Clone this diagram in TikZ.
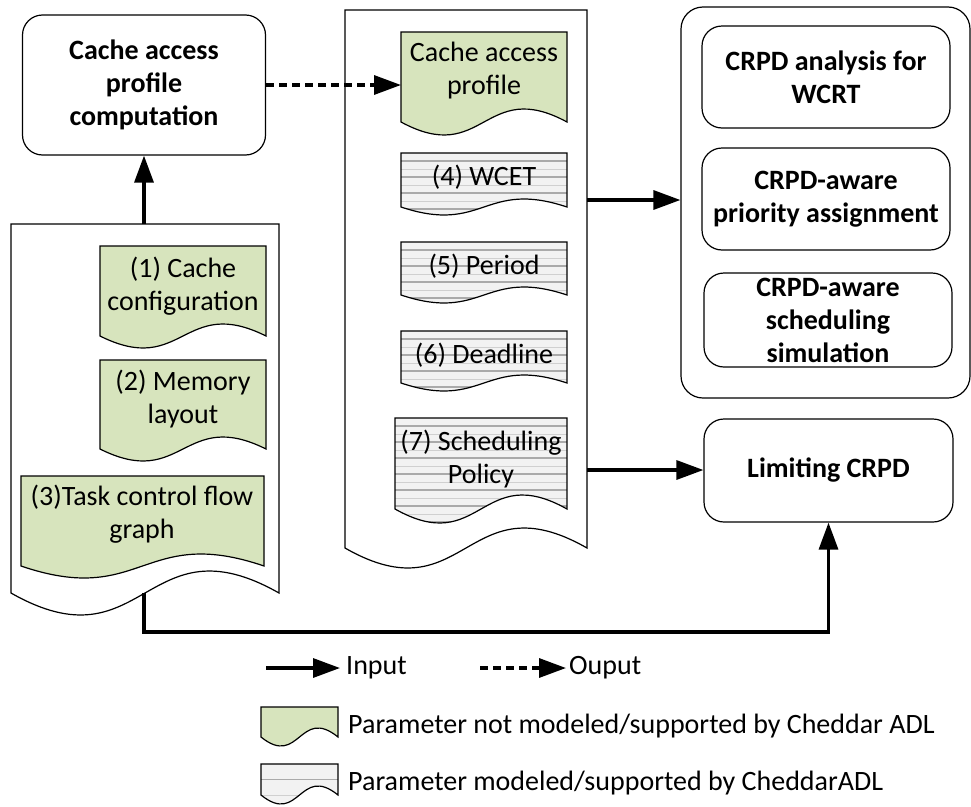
\documentclass[tikz,border=0pt]{standalone}
\usepackage{fontspec}
\setmainfont{Carlito}
\usetikzlibrary{arrows.meta}
\definecolor{docgreen}{RGB}{215,228,189}
\definecolor{docgray}{RGB}{242,242,242}
\definecolor{hatchdark}{RGB}{170,170,170}
\definecolor{hatchlight}{RGB}{208,208,208}

\newcommand{\docpath}[5]{(#1,#2) -- (#3,#2) -- (#3,#4) .. controls ({(#1+#3)/2},{#4-3.46*#5}) and ({(#1+#3)/2},{#4+3.46*#5}) .. (#1,#4) -- cycle}
\newcommand{\whitedoc}[5]{\filldraw[shapeline, fill=white] \docpath{#1}{#2}{#3}{#4}{#5};}
\newcommand{\greendoc}[5]{\filldraw[shapeline, fill=docgreen] \docpath{#1}{#2}{#3}{#4}{#5};}
\newcommand{\graydoc}[6]{%
  \begin{scope}
    \clip \docpath{#1}{#2}{#3}{#4}{#5};
    \fill[docgray] (#1,#2) rectangle (#3,{#4+#5+2});
    \foreach \k in {1,...,16}{%
      \pgfmathsetmacro{\yy}{#2+#6*\k}
      \ifodd\k
        \draw[hatchdark, line width=1.1pt] (#1,\yy) -- (#3,\yy);
      \else
        \draw[hatchlight, line width=0.7pt] (#1,\yy) -- (#3,\yy);
      \fi
    }
  \end{scope}
  \draw[shapeline] \docpath{#1}{#2}{#3}{#4}{#5};}

\tikzset{
  shapeline/.style={draw=black, line width=1.2pt},
  rbox/.style={draw, line width=1.2pt, rounded corners=20pt, align=center,
    font=\bfseries\fontsize{28}{33}\selectfont, inner sep=0pt},
  txt/.style={align=center, font=\fontsize{28}{33}\selectfont, inner sep=0pt},
  inarrow/.style={line width=3.3pt, -{Triangle[length=27pt,width=19pt]}},
  outarrow/.style={inarrow, dash pattern=on 8pt off 5pt},
}

\begin{document}
\begin{tikzpicture}[x=1pt, y=-1pt]
\useasboundingbox (0,0) rectangle (971,806);

% ---------- top-left process box
\node[rbox, minimum width=243pt, minimum height=140pt] (cap) at (144,85)
  {Cache access\\profile\\computation};

% ---------- left document with inputs
\whitedoc{11}{224}{279}{593}{22}
\coordinate (Ltop) at (144,224);
\coordinate (Lbot) at (144,593);
\greendoc{100}{246}{266}{336}{12}
\node[txt] (t1) at (183,286) {(1) Cache\\configuration};
\greendoc{100}{360}{266}{449}{12}
\node[txt] (t2) at (183,399) {(2) Memory\\layout};
\greendoc{21}{476}{264}{566}{12}
\node[txt] (t3) at (142,514) {(3)Task control flow\\graph};

% ---------- middle document
\whitedoc{345}{10}{587}{548}{20}
\coordinate (Mr1) at (587,200);
\coordinate (Mr2) at (587,470);
\greendoc{401}{32}{567}{122}{13}
\coordinate (capdocW) at (401,85);
\node[txt] (tcap) at (484,71) {Cache access\\profile};
\graydoc{401}{153}{567}{207}{8}{8}
\node[txt] (t4) at (484,177) {(4) WCET};
\graydoc{401}{242}{567}{295}{8}{8}
\node[txt] (t5) at (484,266) {(5) Period};
\graydoc{401}{331}{567}{383}{8}{8}
\node[txt] (t6) at (484,355) {(6) Deadline};
\graydoc{395}{418}{567}{509}{14}{8}
\node[txt] (t7) at (481,459) {(7) Scheduling\\Policy};

% ---------- right group
\node[draw, line width=1.2pt, rounded corners=22pt, minimum width=289pt,
  minimum height=391pt, inner sep=0pt] (R) at (825.5,202.5) {};
\node[rbox, minimum width=248pt, minimum height=102pt] (r1) at (826,77)
  {CRPD analysis for\\WCRT};
\node[rbox, minimum width=248pt, minimum height=102pt] (r2) at (826,199)
  {CRPD-aware\\priority assignment};
\node[rbox, minimum width=248pt, minimum height=94pt] (r3) at (828,320)
  {CRPD-aware\\scheduling\\simulation};
\node[rbox, minimum width=249pt, minimum height=103pt] (lim) at (828.5,470.5)
  {Limiting CRPD};

% ---------- connectors
\draw[inarrow] (Ltop) -- (cap.south);
\draw[outarrow] (cap.east) -- (capdocW);
\draw[inarrow] (Mr1) -- (Mr1 -| R.west);
\draw[inarrow] (Mr2) -- (Mr2 -| lim.west);
\draw[inarrow] (Lbot) -- ++(0,39) -| (lim.south);

% ---------- legend
\coordinate (li1) at (266,668);
\coordinate (li2) at (340,668);
\draw[inarrow] (li1) -- (li2);
\node[txt, anchor=west] (lin) at (346,668) {Input};
\coordinate (lo1) at (480,668);
\coordinate (lo2) at (566,668);
\draw[outarrow] (lo1) -- (lo2);
\node[txt, anchor=west] (lout) at (569,668) {Ouput};

\greendoc{261}{707}{338}{737}{9}
\node[txt, anchor=west] (lg) at (348,726) {Parameter not modeled/supported by Cheddar ADL};
\graydoc{261}{764}{338}{795}{9}{15.5}
\node[txt, anchor=west] (lgr) at (348,783) {Parameter modeled/supported by CheddarADL};
\end{tikzpicture}
\end{document}
